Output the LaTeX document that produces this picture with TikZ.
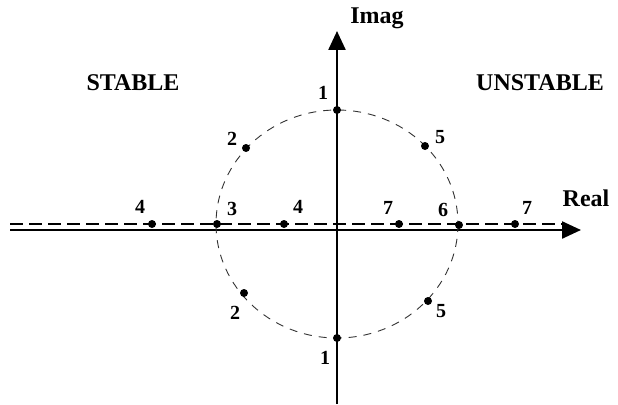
\documentclass[tikz,border=0pt]{standalone}
\usepackage{fontspec}
\setmainfont{Liberation Serif}
\usetikzlibrary{arrows.meta}
\begin{document}
\begin{tikzpicture}[x=1pt,y=-1pt,
  axisline/.style={line width=2.4pt},
  axisarrow/.style={-{Triangle[length=19pt,width=17pt]}},
  dashaxis/.style={line width=1.2pt,dash pattern=on 13pt off 6pt},
  unitcircle/.style={line width=0.9pt,dash pattern=on 8pt off 7pt,draw=black!80},
  pole/.style={circle,fill=black,inner sep=0pt,minimum size=8pt},
  num/.style={font=\bfseries\fontsize{20}{20}\selectfont,inner sep=0pt},
  title/.style={font=\bfseries\fontsize{24}{24}\selectfont,inner sep=0pt}]
\useasboundingbox (0,0) rectangle (618,404);
% axes
\coordinate (xs) at (10,230);
\coordinate (xe) at (581,230);
\coordinate (ds) at (10,224);
\coordinate (de) at (562,224);
\coordinate (ys) at (337,404);
\coordinate (ye) at (337,31);
\draw[dashaxis] (ds) -- (de);
\draw[axisline,axisarrow] (xs) -- (xe);
\draw[axisline,axisarrow] (ys) -- (ye);
% unit circle
\draw[unitcircle] (337,224) ellipse [x radius=121, y radius=114];
% poles
\node[pole] (p1t) at (337,110) {};
\node[pole] (p1b) at (337,338) {};
\node[pole] (p2u) at (246,148) {};
\node[pole] (p2l) at (244,293) {};
\node[pole] (p5u) at (425,146) {};
\node[pole] (p5l) at (428,301) {};
\node[pole] (p4o) at (152,224) {};
\node[pole] (p3) at (217,224) {};
\node[pole] (p4i) at (284,224) {};
\node[pole] (p7i) at (399,224) {};
\node[pole] (p6) at (459,225) {};
\node[pole] (p7o) at (515,224) {};
% labels
\node[num] (l1t) at (323,93) {1};
\node[num] (l1b) at (325,358) {1};
\node[num] (l2u) at (232,139) {2};
\node[num] (l2l) at (235,313) {2};
\node[num] (l5u) at (440,137) {5};
\node[num] (l5l) at (441,311) {5};
\node[num] (l4o) at (140,207) {4};
\node[num] (l3) at (232,209) {3};
\node[num] (l4i) at (298,207) {4};
\node[num] (l7i) at (388,208) {7};
\node[num] (l6) at (443,210) {6};
\node[num] (l7o) at (527,208) {7};
\node[title] (imag) at (377,18) {Imag};
\node[title] (real) at (586,198) {Real};
\node[title] (stable) at (133,83) {STABLE};
\node[title] (unstable) at (540,83) {UNSTABLE};
\end{tikzpicture}
\end{document}
